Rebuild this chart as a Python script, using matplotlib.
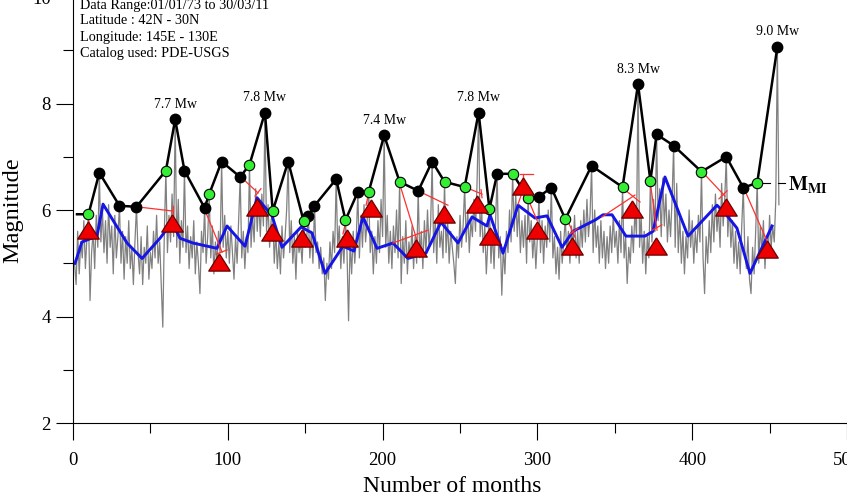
import numpy as np
from matplotlib import pyplot as plt

plt.rcParams['font.family'] = 'Liberation Serif'
plt.rcParams['mathtext.fontset'] = 'stix'

# monthly maximum magnitude (grey trace), month 1 onwards
gray = [
    5.0, 4.6, 5.6, 4.8, 5.4, 5.1, 5.8, 4.9, 5.5, 5.92,
    4.3, 5.2, 5.6, 4.9, 5.9, 5.3, 6.70, 5.4, 6.0, 5.2,
    5.8, 5.0, 6.1, 5.3, 5.7, 4.8, 5.9, 5.1, 5.5, 6.08,
    5.0, 5.6, 4.7, 5.5, 5.0, 5.8, 4.9, 5.3, 4.6, 5.4,
    6.06, 5.2, 4.8, 5.5, 4.6, 5.3, 5.0, 5.7, 4.7, 5.2,
    4.9, 5.6, 5.1, 5.9, 5.0, 5.4, 4.6, 3.8, 5.6, 6.74,
    5.2, 5.9, 5.4, 6.3, 5.5, 7.70, 5.3, 6.2, 5.0, 5.8,
    5.3, 6.74, 5.2, 5.7, 4.9, 5.5, 5.1, 5.8, 4.8, 5.4,
    5.0, 4.43, 5.6, 5.2, 6.04, 5.0, 5.5, 6.30, 5.1, 5.7,
    4.8, 5.4, 5.0, 5.6, 5.2, 6.91, 5.3, 5.9, 5.1, 5.6,
    5.0, 5.7, 5.2, 4.7, 5.5, 5.0, 5.8, 6.62, 5.1, 5.6,
    4.9, 5.5, 5.2, 6.85, 5.3, 5.9, 5.4, 6.4, 5.6, 6.2,
    5.5, 6.3, 5.7, 7.83, 5.6, 6.1, 5.3, 5.8, 5.98, 5.0,
    5.6, 4.9, 5.4, 4.8, 5.7, 5.1, 5.5, 6.0, 6.91, 5.2,
    5.8, 5.0, 5.5, 4.7, 5.6, 5.2, 5.4, 5.0, 5.79, 5.3,
    5.5, 5.89, 5.1, 5.6, 5.0, 6.08, 5.2, 5.4, 4.9, 5.3,
    4.8, 5.1, 4.3, 5.0, 4.7, 5.4, 4.9, 5.6, 5.2, 6.58,
    5.3, 5.7, 4.9, 5.5, 5.0, 5.81, 5.2, 3.92, 5.4, 4.8,
    5.6, 5.0, 5.5, 6.34, 5.1, 5.9, 5.3, 6.1, 5.4, 5.8,
    6.34, 5.2, 5.6, 4.8, 5.5, 5.0, 5.8, 5.2, 6.2, 5.5,
    7.40, 5.3, 5.9, 5.0, 5.6, 4.9, 5.7, 5.2, 6.0, 5.1,
    6.53, 4.62, 5.5, 5.0, 5.8, 4.8, 5.4, 5.1, 5.7, 4.9,
    5.5, 5.0, 6.36, 5.1, 5.6, 4.9, 5.8, 5.2, 6.0, 5.3,
    5.7, 6.91, 5.2, 5.8, 5.0, 6.1, 5.3, 5.6, 5.1, 6.53,
    5.2, 5.8, 5.0, 5.6, 5.3, 5.0, 4.62, 5.5, 5.1, 5.9,
    5.3, 5.7, 6.43, 5.4, 6.0, 5.2, 5.8, 5.5, 6.2, 5.6,
    6.5, 7.83, 5.5, 6.0, 5.2, 5.7, 4.8, 5.4, 6.02, 5.0,
    5.6, 4.9, 5.8, 6.68, 5.1, 5.5, 4.40, 5.3, 4.8, 5.6,
    5.2, 6.0, 5.4, 6.68, 5.6, 6.3, 5.5, 6.1, 5.2, 5.8,
    5.3, 5.9, 5.0, 6.23, 5.4, 5.8, 5.1, 5.6, 4.9, 5.5,
    6.25, 5.2, 5.8, 5.0, 5.7, 5.3, 6.0, 5.4, 6.42, 5.1,
    5.5, 4.8, 5.3, 4.7, 5.6, 5.0, 5.4, 5.83, 5.2, 5.6,
    5.0, 5.7, 5.3, 5.9, 5.1, 5.6, 5.0, 5.8, 5.3, 6.0,
    5.4, 6.2, 5.5, 5.9, 6.83, 5.2, 6.0, 5.3, 5.7, 5.0,
    5.8, 5.1, 5.6, 4.9, 5.5, 5.0, 5.7, 5.2, 5.9, 5.3,
    5.6, 5.0, 5.8, 5.2, 6.43, 5.1, 5.5, 4.62, 5.3, 5.0,
    5.7, 5.2, 6.0, 5.5, 8.36, 5.3, 5.9, 5.0, 5.6, 4.8,
    5.5, 5.1, 6.55, 5.4, 6.2, 5.6, 7.42, 5.8, 6.4, 5.5,
    6.6, 5.7, 6.3, 5.4, 6.0, 5.5, 6.2, 7.21, 5.3, 6.5,
    5.2, 5.9, 5.0, 5.6, 4.8, 5.5, 5.1, 6.0, 5.3, 5.8,
    5.0, 5.6, 5.2, 5.9, 5.4, 6.72, 5.1, 4.43, 5.5, 5.0,
    5.8, 5.2, 6.1, 5.4, 6.3, 5.6, 6.0, 5.3, 6.5, 5.7,
    6.2, 7.00, 5.5, 6.1, 5.3, 5.8, 5.0, 5.6, 4.9, 5.4,
    4.8, 5.7, 6.42, 5.2, 4.9, 5.5, 4.7, 4.43, 5.3, 4.8,
    5.6, 6.51, 5.0, 5.7, 5.2, 5.8, 4.9, 5.5, 5.1, 5.9,
    5.3, 5.7, 5.4, 6.2, 9.06, 6.1]

# window maxima (black line), g = green circle, k = black circle
circ_month = [10, 17, 30, 41, 60, 66, 72, 85, 88, 96, 108, 114, 124, 129, 139, 149,
              152, 156, 170, 176, 184, 191, 201, 211, 223, 232, 240, 253, 262, 269,
              274, 284, 294, 301, 309, 318, 335, 355, 365, 373, 377, 388, 406, 422,
              433, 442, 455]
circ_mag = [5.92, 6.70, 6.08, 6.06, 6.74, 7.70, 6.74, 6.04, 6.30, 6.91, 6.62, 6.85,
            7.83, 5.98, 6.91, 5.79, 5.89, 6.08, 6.58, 5.81, 6.34, 6.34, 7.40, 6.53,
            6.36, 6.91, 6.53, 6.43, 7.83, 6.02, 6.68, 6.68, 6.23, 6.25, 6.42, 5.83,
            6.83, 6.43, 8.36, 6.55, 7.42, 7.21, 6.72, 7.00, 6.42, 6.51, 9.06]
circ_kind = "gkkkgkkkgkkgkgkgkkkgkgkgkkggkgkggkkgkgkgkkgkkgk"

# smoothed curve (blue)
blue_month = [1.3, 5.8, 15.5, 19.4, 34.9, 44.6, 56.2, 64.0, 69.1, 77.5,
              93.0, 99.5, 111.1, 118.9, 128.6, 135.0, 147.3, 154.4, 162.8, 174.4,
              181.5, 187.3, 196.4, 206.7, 216.4, 228.0, 237.7, 248.7, 257.8, 267.4,
              269.4, 277.8, 287.5, 298.4, 306.2, 315.9, 323.0, 337.2, 342.4, 348.2,
              357.2, 369.5, 374.7, 382.4, 397.3, 416.0, 421.2, 428.9, 437.3, 451.6]
blue_mag = [5.00, 5.40, 5.51, 6.11, 5.38, 5.09, 5.47, 5.77, 5.47, 5.38,
            5.28, 5.70, 5.32, 6.23, 5.89, 5.30, 5.68, 5.57, 4.81, 5.32,
            5.23, 5.87, 5.28, 5.38, 5.09, 5.19, 5.77, 5.38, 5.87, 5.70,
            5.91, 5.19, 6.09, 5.85, 5.89, 5.30, 5.60, 5.81, 5.91, 5.91,
            5.51, 5.51, 5.60, 6.62, 5.51, 6.09, 5.94, 5.66, 4.81, 5.70]

# red triangles
tri_month = [10, 64.0, 94.3, 118.9, 128.6, 147.9, 177.0, 192.5, 221.6, 239.7,
             261.0, 269.4, 290.7, 299.7, 322.4, 361.1, 376.6, 421.8, 448.3]
tri_mag = [5.62, 5.75, 5.02, 6.06, 5.58, 5.47, 5.47, 6.04, 5.28, 5.92,
           6.11, 5.51, 6.45, 5.62, 5.32, 6.02, 5.32, 6.06, 5.26]

# thin red links between circles and triangles
red_m0 = [9.7, 41.3, 64.6, 84.6, 92.4, 108.5, 117.6, 176.4, 191.2, 210.6, 206.7,
          222.9, 253.2, 263.6, 290.7, 288.8, 290.7, 293.9, 319.1, 321.1, 354.7,
          341.7, 372.7, 374.0, 407.0, 417.3, 433.5]
red_g0 = [5.91, 6.06, 6.08, 6.04, 5.17, 6.62, 6.26, 5.81, 6.34, 6.53, 5.38,
          6.36, 6.43, 6.38, 6.45, 6.68, 6.38, 6.21, 5.83, 5.55, 6.42,
          5.87, 6.55, 5.62, 6.70, 6.21, 6.40]
red_m1 = [10.3, 64.6, 64.6, 96.3, 99.5, 119.5, 121.4, 174.4, 189.3, 222.2, 229.3,
          242.2, 264.2, 264.2, 290.7, 297.2, 287.5, 299.7, 324.3, 326.2, 366.3,
          363.0, 377.3, 380.4, 421.2, 422.5, 448.3]
red_g1 = [5.74, 5.98, 5.89, 5.21, 5.25, 6.32, 6.40, 5.55, 6.09, 5.43, 5.62,
          6.09, 6.30, 6.23, 6.68, 6.68, 6.11, 5.81, 5.49, 5.66, 6.15,
          6.28, 5.62, 5.72, 6.26, 6.36, 5.42]

big_month = [66, 124, 201, 262, 365, 455]
big_mag = [7.70, 7.83, 7.40, 7.83, 8.36, 9.06]
big_label = ["7.7 Mw", "7.8 Mw", "7.4 Mw", "7.8 Mw", "8.3 Mw", "9.0 Mw"]

info = ["Data Range:01/01/73 to 30/03/11", "Latitude : 42N - 30N",
        "Longitude: 145E - 130E", "Catalog used: PDE-USGS"]
m_mi = 6.51

fig = plt.figure(figsize=(8.47, 4.98), dpi=100)
ax = fig.add_axes([0.0862, 0.1506, 0.9138, 0.8554])

months = np.arange(1, len(gray) + 1)
ax.plot(months, gray, color='#808080', lw=0.9, zorder=1)
ax.plot(blue_month, blue_mag, color='#1515e6', lw=2.1, zorder=2)

for m0, g0, m1, g1 in zip(red_m0, red_g0, red_m1, red_g1):
    ax.plot([m0, m1], [g0, g1], color='#ff3030', lw=0.9, zorder=3)

ax.plot([2.6] + circ_month, [circ_mag[0]] + circ_mag, color='black', lw=1.8, zorder=4)
cm = np.array(circ_month)
cg = np.array(circ_mag)
green = np.array([k == 'g' for k in circ_kind])
ax.plot(cm[~green], cg[~green], 'o', color='black', ms=7.5, zorder=5)
ax.plot(cm[green], cg[green], 'o', mfc='#33ee33', mec='black', mew=0.8, ms=7.5, zorder=5)

tri = [(0, 0.8), (-1, -0.8), (1, -0.8), (0, 0.8)]
ax.plot(tri_month, tri_mag, ls='none', marker=tri, ms=15.5, mfc='#ee0000',
        mec='#6b0000', mew=0.9, zorder=6)

for m, g, t in zip(big_month, big_mag, big_label):
    ax.annotate(t, (m, g), xytext=(0, 11), textcoords='offset points',
                ha='center', va='center', fontsize=10)

# M_MI marker to the right of the last window
ax.plot([442, 450], [m_mi, m_mi], color='black', lw=0.8, zorder=4)
ax.plot([455.5, 460], [m_mi, m_mi], color='black', lw=0.8, zorder=4, clip_on=False)
ax.text(462, m_mi - 0.03, r'$\mathbf{M_{MI}}$', fontsize=14.5, va='center', ha='left')

for i, line in enumerate(info):
    fig.text(80 / 847, 1 - (5 + 16 * i) / 498, line, fontsize=10.3,
             va='center', ha='left')

ax.set_xlim(0, 500)
ax.set_ylim(2, 10)
ax.spines['top'].set_visible(False)
ax.spines['right'].set_visible(False)
ax.set_xticks(np.arange(0, 501, 100))
ax.set_xticks(np.arange(50, 500, 100), minor=True)
ax.set_yticks(np.arange(2, 11, 2))
ax.set_yticks(np.arange(3, 10, 2), minor=True)
ax.tick_params(which='major', direction='out', length=12, width=0.8, labelsize=13.5)
ax.tick_params(which='minor', direction='out', length=7, width=0.8)
ax.tick_params(axis='x', pad=9)
ax.tick_params(axis='y', pad=4)

ax.set_xlabel("Number of months", fontsize=17)
ax.set_ylabel("Magnitude", fontsize=17.5)
ax.xaxis.set_label_coords(0.49, -0.125)
ax.yaxis.set_label_coords(-0.064, 0.5)

plt.savefig("out.png", dpi=100)
